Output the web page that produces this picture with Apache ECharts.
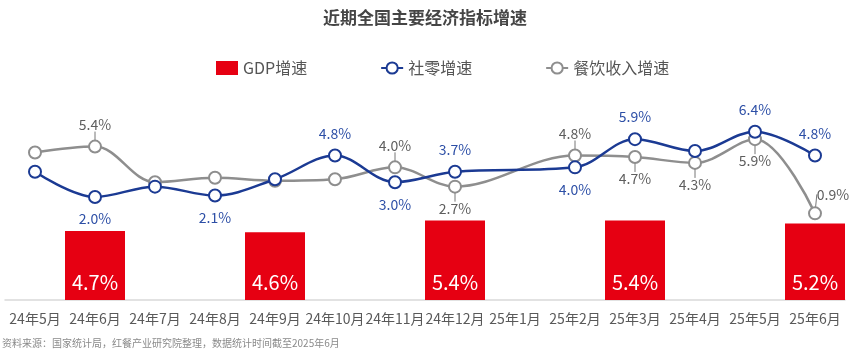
<!DOCTYPE html>
<html><head><meta charset="utf-8">
<script src="https://cdn.jsdelivr.net/npm/echarts@6/dist/echarts.min.js"></script>
<style>html,body{margin:0;padding:0;background:#fff}#c{width:850px;height:360px}</style>
</head><body><div id="c"></div>
<script>
var categories = ['24年5月','24年6月','24年7月','24年8月','24年9月','24年10月','24年11月','24年12月','25年1月','25年2月','25年3月','25年4月','25年5月','25年6月'];
var gdpGrowth = [null, 4.7, null, null, 4.6, null, null, 5.4, null, null, 5.4, null, null, 5.2];
var retailGrowth = [3.7, 2.0, 2.7, 2.1, 3.2, 4.8, 3.0, 3.7, null, 4.0, 5.9, 5.1, 6.4, 4.8];
var cateringGrowth = [5.0, 5.4, 3.0, 3.3, 3.1, 3.2, 4.0, 2.7, null, 4.8, 4.7, 4.3, 5.9, 0.9];
var seriesNames = ['GDP增速', '社零增速', '餐饮收入增速'];
var title = '近期全国主要经济指标增速';
var sourceNote = '资料来源：国家统计局，红餐产业研究院整理，数据统计时间截至2025年6月';

// label placement (style only)
var retailLabelPos = [null,'bottom',null,'bottom',null,'top','bottom','top',null,'bottom','top',null,'top','top'];
var cateringLabelPos = [null,'top',null,null,null,null,'top','bottom',null,'top','bottom','bottom','bottom','topright'];

var FONT = '"Noto Sans CJK SC", "Noto Sans", sans-serif';
var BLUE = '#1B3A93', BLUE_L = '#2D4FA6', GRAY = '#8E8E8E', GRAY_L = '#5E5E5E', RED = '#E60012';

function buildLineData(vals, pos) {
  return vals.map(function (v, i) {
    var p = pos[i];
    var item = { value: v };
    if (!p) { item.label = { show: false }; return item; }
    item.label = { show: true, position: p === 'topright' ? 'top' : p };
    return item;
  });
}

var chart = echarts.init(document.getElementById('c'), null, { renderer: 'canvas' });
chart.setOption({
  backgroundColor: '#fff',
  textStyle: { fontFamily: FONT },
  title: {
    text: title, left: 'center', top: 4,
    textStyle: { fontSize: 17, fontWeight: 'bold', color: '#454545', fontFamily: FONT }
  },
  legend: {
    top: 55, left: 211, itemGap: 73, itemWidth: 22, itemHeight: 14,
    textStyle: { fontSize: 16, color: '#555', fontFamily: FONT },
    data: [
      { name: seriesNames[0], icon: 'rect' },
      { name: seriesNames[1] },
      { name: seriesNames[2] }
    ]
  },
  grid: { left: 5, right: 5, top: 100, bottom: 60 },
  xAxis: {
    type: 'category', data: categories,
    axisLine: { show: true, lineStyle: { color: '#d9d9d9', width: 1.5 } },
    axisTick: { show: false },
    axisLabel: { fontSize: 14, color: '#595959', margin: 12, fontFamily: FONT, interval: 0 }
  },
  yAxis: [
    { type: 'value', min: 0, max: 13.6, show: false, splitLine: { show: false } },
    { type: 'value', min: -4.94, max: 8.54, show: false, splitLine: { show: false } }
  ],
  series: [
    {
      name: seriesNames[0], type: 'bar', yAxisIndex: 0, data: gdpGrowth,
      barWidth: 60, itemStyle: { color: RED },
      label: {
        show: true, position: 'insideBottom', distance: 8, color: '#fff', fontSize: 20, fontFamily: FONT,
        formatter: function (p) { return p.value.toFixed(1) + '%'; }
      },
      z: 1
    },
    {
      name: seriesNames[1], type: 'line', yAxisIndex: 1, smooth: 0.35, connectNulls: true,
      data: buildLineData(retailGrowth, retailLabelPos),
      symbol: 'emptyCircle', symbolSize: 12, showAllSymbol: true,
      lineStyle: { color: BLUE, width: 2.5 },
      itemStyle: { color: BLUE, borderWidth: 2.5, borderColor: BLUE },
      label: {
        show: true, color: BLUE_L, fontSize: 14, distance: 8, fontFamily: FONT,
        formatter: function (p) { return p.value.toFixed(1) + '%'; }
      },
      z: 3
    },
    {
      name: seriesNames[2], type: 'line', yAxisIndex: 1, smooth: 0.35, connectNulls: true,
      data: buildLineData(cateringGrowth, cateringLabelPos),
      symbol: 'emptyCircle', symbolSize: 12, showAllSymbol: true,
      lineStyle: { color: GRAY, width: 2.5 },
      itemStyle: { color: GRAY, borderWidth: 2.5, borderColor: GRAY },
      label: {
        show: true, color: GRAY_L, fontSize: 14, distance: 1, fontFamily: FONT,
        formatter: function (p) { return p.value.toFixed(1) + '%'; }
      },
      labelLine: { show: true, length2: 0, lineStyle: { color: '#777', width: 1 } },
      labelLayout: function (p) {
        var pos = cateringLabelPos[p.dataIndex];
        if (pos === 'top') return { dx: 0, dy: -7 };
        if (pos === 'bottom') return { dx: 0, dy: 7 };
        if (pos === 'topright') return { dx: 18, dy: -4 };
        return {};
      },
      z: 2
    }
  ],
  graphic: [
    { type: 'text', left: 2, top: 338, style: { text: sourceNote, fontSize: 10, fill: '#8a8a8a', fontFamily: FONT } }
  ]
});
</script></body></html>
